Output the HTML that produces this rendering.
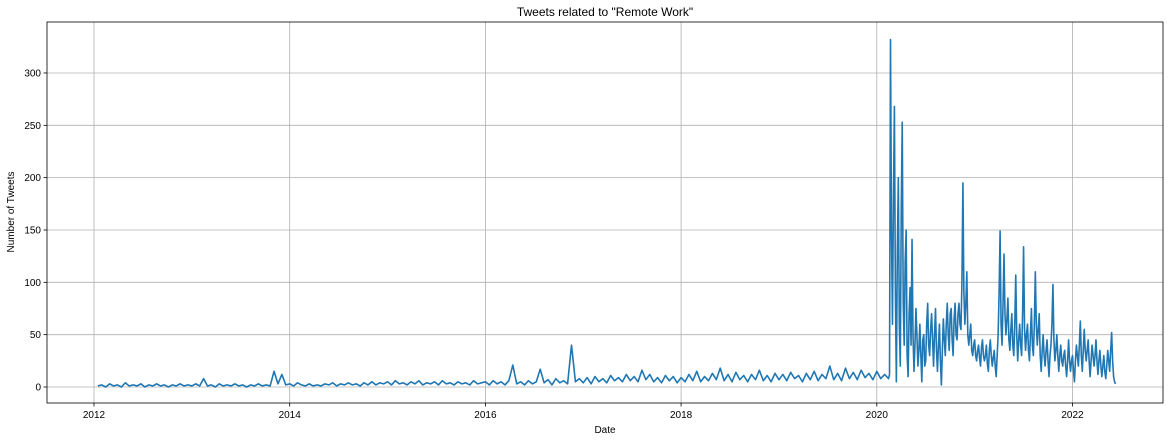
<!DOCTYPE html>
<html><head><meta charset="utf-8"><style>
body{margin:0;background:#fff;}
svg text{font-family:"Liberation Sans","DejaVu Sans",sans-serif;fill:#000;}
</style></head><body>
<svg id="chart" width="1170" height="441" xmlns="http://www.w3.org/2000/svg">
<rect width="1170" height="441" fill="#fff"/>
<text x="605" y="16" font-size="12" text-anchor="middle">Tweets related to "Remote Work"</text>
<g id="grid"></g>
<g id="series"></g>
<rect x="47" y="22" width="1116" height="381" fill="none" stroke="#000" stroke-width="0.8"/>
<g id="xticks"></g>
<g id="yticks"></g>
<text x="605" y="433" font-size="10" text-anchor="middle">Date</text>
<text x="14" y="212" font-size="10" text-anchor="middle" transform="rotate(-90 14 212)">Number of Tweets</text>
</svg>
<script>
const xTickYears=[2012,2014,2016,2018,2020,2022];
const yTickValues=[0,50,100,150,200,250,300];
const earlyStart=2012.04, earlyEnd=2020.08;
const earlyValues=[1,2,0,3,1,2,0,4,1,2,1,3,0,2,1,3,1,2,0,2,1,3,1,2,
1,3,1,8,1,2,0,3,1,2,1,3,1,2,0,2,1,3,1,2,1,15,3,12,2,
3,1,4,2,1,3,1,2,1,3,2,4,1,3,2,4,2,3,1,4,2,5,2,4,3,
5,2,6,3,4,2,5,3,6,2,4,3,5,2,6,3,4,2,5,3,4,2,6,3,4,
5,2,6,3,5,2,6,21,3,5,2,6,3,5,17,4,7,2,8,4,6,3,40,5,8,
4,9,3,10,5,8,4,11,6,9,5,12,6,10,5,16,7,12,5,9,4,11,6,10,4,
9,5,12,6,15,5,10,6,13,7,18,6,12,5,14,7,11,5,12,7,16,6,11,5,13,
7,12,6,14,8,11,5,13,7,15,6,12,8,20,7,13,6,18,8,14,7,16,9,13,7,
15,8,12];
const lateStart=2020.12, lateEnd=2022.44;
const lateValues=[8,12,332,150,60,180,268,90,5,130,200,60,20,170,253,80,40,120,150,30,
10,70,95,40,141,50,15,40,75,50,20,35,60,30,5,45,50,20,25,60,
80,40,30,55,70,45,20,50,75,35,15,40,60,25,2,35,65,45,30,60,
80,50,35,70,75,45,30,65,80,50,45,70,80,60,55,100,195,90,60,80,
110,50,40,50,60,35,30,40,45,30,25,35,40,28,20,38,45,30,25,30,
40,22,15,35,45,30,20,28,35,20,10,30,50,90,149,60,40,80,127,70,
50,65,85,45,35,55,70,40,30,60,107,50,25,45,60,40,30,70,134,55,
35,50,60,35,25,50,75,40,30,60,110,60,40,55,70,30,15,35,50,30,
20,35,45,25,10,30,40,60,98,45,25,35,50,30,15,30,40,25,20,30,
35,20,10,25,45,25,15,25,30,15,5,25,40,30,20,40,63,30,15,35,
55,35,25,35,45,25,10,25,40,30,20,30,45,25,12,25,35,20,10,20,
30,15,8,20,35,25,15,35,52,25,10,5,3];

const NS="http://www.w3.org/2000/svg";
const X0=47,X1=1163,Y0=22,Y1=403;
function xScale(yr){return 94+(yr-2012)*97.85;}
function yScale(v){return 387-v*1.0467;}
const grid=document.getElementById('grid'),xt=document.getElementById('xticks'),yt=document.getElementById('yticks'),ser=document.getElementById('series');
function mk(tag,attrs,parent){const e=document.createElementNS(NS,tag);for(const k in attrs)e.setAttribute(k,attrs[k]);parent.appendChild(e);return e;}
xTickYears.forEach(yr=>{
  const x=xScale(yr);
  const g=mk('line',{x1:x,x2:x,y1:Y0,y2:Y1,stroke:'#b0b0b0','stroke-width':0.8},grid);
  
  
  const t=mk('line',{x1:x,x2:x,y1:Y1,y2:Y1+3.5,stroke:'#000','stroke-width':0.8},xt);
  
  
  const l=mk('text',{x:x,y:Y1+15,'font-size':10,'text-anchor':'middle'},xt);
  l.textContent=yr;
  
  
});
yTickValues.forEach(v=>{
  const y=yScale(v);
  const g=mk('line',{x1:X0,x2:X1,y1:y,y2:y,stroke:'#b0b0b0','stroke-width':0.8},grid);
  
  
  const t=mk('line',{x1:X0-3.5,x2:X0,y1:y,y2:y,stroke:'#000','stroke-width':0.8},yt);
  
  
  const l=mk('text',{x:X0-6,y:y+3.5,'font-size':10,'text-anchor':'end'},yt);
  l.textContent=v;
  
  
});
const pts=[];
const es=(earlyEnd-earlyStart)/(earlyValues.length-1);
earlyValues.forEach((v,i)=>pts.push([xScale(earlyStart+i*es),yScale(v)]));
const ls=(lateEnd-lateStart)/(lateValues.length-1);
lateValues.forEach((v,i)=>pts.push([xScale(lateStart+i*ls),yScale(v)]));
const p=mk('path',{d:'M'+pts.map(q=>q[0].toFixed(2)+','+q[1].toFixed(2)).join('L'),fill:'none',stroke:'#1f77b4','stroke-width':1.6,'stroke-linejoin':'round'},ser);


</script>
</body></html>
